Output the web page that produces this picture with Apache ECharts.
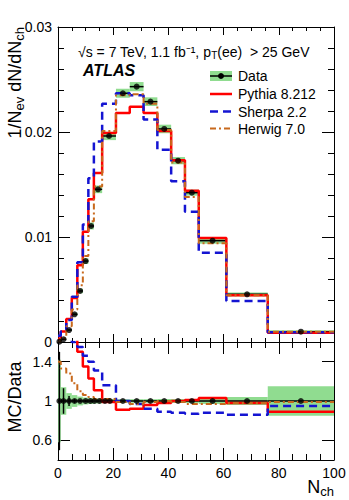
<!DOCTYPE html>
<html>
<head>
<meta charset="utf-8">
<script src="https://cdn.jsdelivr.net/npm/echarts@6/dist/echarts.min.js"></script>
<style>
  html, body { margin: 0; padding: 0; background: #fff; }
  #chart { width: 349px; height: 500px; }
</style>
</head>
<body>
<div id="chart"></div>
<script>
// bin edges in N_ch
const edges = [0, 1, 3, 5, 7, 9, 11, 13, 16, 21, 26, 31, 36, 41, 46, 51, 61, 76, 100]
// measured 1/Nev dN/dNch
const dataVals = [0.00003, 0.00026, 0.00114, 0.00264, 0.00486, 0.00771, 0.01105, 0.01454, 0.01962,
  0.02369, 0.02432, 0.02289, 0.02029, 0.01727, 0.01422, 0.00965, 0.00454, 0.00098]
// total uncertainty (relative), green band
const dataRelErr = [0.42, 0.14, 0.08, 0.06, 0.045, 0.035, 0.03, 0.025, 0.02,
  0.018, 0.018, 0.018, 0.02, 0.02, 0.02, 0.03, 0.04, 0.15]
// stat error bars in the ratio panel
const dataStatErr = [0.5, 0.13, 0.05, 0.02, 0.01, 0.01, 0.01, 0.005, 0.005,
  0, 0, 0, 0, 0, 0, 0, 0, 0]
// generators, top panel
const pythiaVals = [0.0003, 0.001, 0.0022, 0.0042, 0.0073, 0.0105, 0.0136, 0.0161, 0.0199,
  0.0218, 0.0224, 0.0218, 0.0201, 0.0173, 0.0144, 0.0099, 0.00445, 0.00087]
const sherpaVals = [0.0006, 0.001, 0.0021, 0.0043, 0.0076, 0.0112, 0.0156, 0.0191, 0.0227,
  0.0237, 0.0235, 0.0212, 0.0183, 0.0153, 0.0124, 0.0085, 0.0039, 0.00092]
const herwigVals = [0.00004, 0.00035, 0.0015, 0.0031, 0.0054, 0.0082, 0.0115, 0.0148, 0.0201,
  0.0235, 0.0236, 0.0227, 0.0202, 0.0171, 0.0138, 0.0094, 0.00445, 0.00097]
// MC/Data
const pythiaRatio = [2.5, 3.5, 2.0, 1.65, 1.5, 1.35, 1.23, 1.11, 0.99,
  0.91, 0.92, 0.96, 0.98, 1.0, 1.01, 1.03, 0.98, 0.89]
const sherpaRatio = [2.0, 3.8, 1.84, 1.6, 1.55, 1.46, 1.4, 1.31, 1.16,
  1.0, 0.97, 0.92, 0.89, 0.88, 0.87, 0.88, 0.86, 0.95]
const herwigRatio = [1.4, 1.33, 1.28, 1.18, 1.1, 1.06, 1.04, 1.02, 1.02,
  0.99, 0.97, 0.99, 1.0, 0.99, 0.97, 0.97, 0.98, 0.99]
// data markers drawn in the ratio panel
const ratioPtN = [0.5, 2, 4, 6, 8, 10, 11.7, 13.2, 15, 17, 18.8, 23.5, 28.5, 33.5, 38.5, 43.5, 48.5, 56, 68.5, 88]
const ratioTicks = [0.6, 1, 1.4]

const FONT = '"Liberation Sans", Arial, Helvetica, sans-serif'
const GREEN = '#90dc90'
const RED = '#ff0000'
const BLUE = '#1414d2'
const ORANGE = '#c8691c'

const chart = echarts.init(document.getElementById('chart'), null, { renderer: 'svg' })

// histogram -> step points
function steps(vals) {
  const pts = vals.map((v, i) => [edges[i], v])
  pts.push([edges[edges.length - 1], vals[vals.length - 1]])
  return pts
}

function bins(vals, err) {
  return vals.map((v, i) => [edges[i], edges[i + 1], v, err[i], (edges[i] + edges[i + 1]) / 2])
}

function bandItem(params, api) {
  const lo = api.value(0), hi = api.value(1), y = api.value(2), e = api.value(3)
  const a = api.coord([lo, y + e])
  const b = api.coord([hi, y - e])
  const cs = params.coordSys
  const rect = echarts.graphic.clipRectByRect(
    { x: a[0], y: a[1], width: b[0] - a[0], height: b[1] - a[1] },
    { x: cs.x, y: cs.y, width: cs.width, height: cs.height })
  return rect && { type: 'rect', shape: rect, style: { fill: GREEN } }
}

function barItem(params, api) {
  const lo = api.value(0), hi = api.value(1), y = api.value(2), e = api.value(3), xc = api.value(4)
  const l = api.coord([lo, y])
  const r = api.coord([hi, y])
  const t = api.coord([xc, y + e])
  const b = api.coord([xc, y - e])
  const st = { stroke: '#000', lineWidth: 1.5 }
  return {
    type: 'group',
    children: [
      { type: 'line', shape: { x1: l[0], y1: l[1], x2: r[0], y2: r[1] }, style: st },
      { type: 'line', shape: { x1: t[0], y1: t[1], x2: b[0], y2: b[1] }, style: st }
    ]
  }
}

function stepSeries(name, vals, xi, color, type, width) {
  return {
    name, type: 'line', step: 'end', xAxisIndex: xi, yAxisIndex: xi, data: steps(vals),
    symbol: 'none', clip: true, lineStyle: { color, type, width }
  }
}

const lineCol = { color: '#000', width: 1 }
function xAx(grid, pos, showLabel, major, minor) {
  return {
    type: 'value', gridIndex: grid, position: pos, min: 0, max: 100, interval: 20,
    axisLine: { show: true, onZero: false, lineStyle: lineCol },
    axisTick: { show: true, inside: true, length: major, lineStyle: lineCol },
    minorTick: { show: true, splitNumber: 4, length: minor, lineStyle: lineCol },
    splitLine: { show: false },
    axisLabel: { show: showLabel, fontSize: 14, color: '#000', fontFamily: FONT, margin: 6,
      showMinLabel: true, showMaxLabel: true }
  }
}
function yTop(pos, showLabel) {
  return {
    type: 'value', gridIndex: 0, position: pos, min: 0, max: 0.03, interval: 0.01,
    axisLine: { show: true, onZero: false, lineStyle: lineCol },
    axisTick: { show: true, inside: true, length: 12, lineStyle: lineCol },
    minorTick: { show: true, splitNumber: 5, length: 6, lineStyle: lineCol },
    splitLine: { show: false },
    axisLabel: { show: showLabel, fontSize: 14, color: '#000', fontFamily: FONT, margin: 6,
      showMinLabel: true, showMaxLabel: true,
      formatter: v => (v === 0 ? '0' : v.toFixed(2)) }
  }
}
function yRatio(pos, showLabel) {
  return {
    type: 'value', gridIndex: 1, position: pos, min: 0.4, max: 1.6,
    axisLine: { show: true, onZero: false, lineStyle: lineCol },
    axisTick: { show: true, inside: true, length: 12, customValues: ratioTicks, lineStyle: lineCol },
    splitLine: { show: false },
    axisLabel: { show: showLabel, fontSize: 14, color: '#000', fontFamily: FONT, margin: 6,
      customValues: ratioTicks, formatter: v => String(+(+v).toFixed(1)) }
  }
}

const txt = (text, x, y, extra, rotation) => ({
  type: 'text', x, y, z: 100, rotation: rotation || 0,
  style: Object.assign({ text, fill: '#000', font: '14px ' + FONT, verticalAlign: 'middle' }, extra)
})
const lg = (y, stroke, width, dash) => ({
  type: 'line', z: 100, shape: { x1: 210, y1: y, x2: 232, y2: y },
  style: { stroke, lineWidth: width, lineDash: dash }
})
const subRich = (big, small, pad) => ({
  m: { fontSize: big, fontFamily: FONT },
  s: { fontSize: small, fontFamily: FONT, padding: [pad, 0, 0, 0] }
})

const option = {
  animation: false,
  backgroundColor: '#fff',
  grid: [
    { left: 58, top: 27, width: 276, height: 315, containLabel: false, outerBoundsMode: 'none' },
    { left: 58, top: 342, width: 276, height: 118, containLabel: false, outerBoundsMode: 'none' }
  ],
  xAxis: [
    xAx(0, 'bottom', false, 8, 4),
    xAx(0, 'top', false, 8, 4),
    xAx(1, 'bottom', true, 12, 6),
    xAx(1, 'top', false, 12, 6)
  ],
  yAxis: [yTop('left', true), yTop('right', false), yRatio('left', true), yRatio('right', false)],
  series: [
    { type: 'custom', xAxisIndex: 0, yAxisIndex: 0, renderItem: bandItem,
      data: bins(dataVals, dataVals.map((v, i) => v * dataRelErr[i])) },
    { type: 'custom', xAxisIndex: 2, yAxisIndex: 2, renderItem: bandItem,
      data: bins(dataVals.map(() => 1), dataRelErr) },
    stepSeries('Pythia 8.212', pythiaVals, 0, RED, 'solid', 2.5),
    stepSeries('Sherpa 2.2', sherpaVals, 0, BLUE, [8, 5], 2.5),
    stepSeries('Herwig 7.0', herwigVals, 0, ORANGE, [6, 3, 2, 3], 2),
    stepSeries('Pythia 8.212', pythiaRatio, 2, RED, 'solid', 2.5),
    stepSeries('Sherpa 2.2', sherpaRatio, 2, BLUE, [8, 5], 2.5),
    stepSeries('Herwig 7.0', herwigRatio, 2, ORANGE, [6, 3, 2, 3], 2),
    { type: 'custom', xAxisIndex: 0, yAxisIndex: 0, renderItem: barItem, z: 3,
      data: bins(dataVals, dataVals.map(() => 0)) },
    { type: 'custom', xAxisIndex: 2, yAxisIndex: 2, renderItem: barItem, z: 3,
      data: bins(dataVals.map(() => 1), dataStatErr) },
    { type: 'scatter', xAxisIndex: 0, yAxisIndex: 0, z: 4, symbolSize: 6,
      itemStyle: { color: '#000' },
      data: dataVals.map((v, i) => [(edges[i] + edges[i + 1]) / 2, v]) },
    { type: 'scatter', xAxisIndex: 2, yAxisIndex: 2, z: 4, symbolSize: 6,
      itemStyle: { color: '#000' },
      data: ratioPtN.map(n => [n, 1]) }
  ],
  graphic: [
    txt('{m|1/N}{s|ev}{m| dN/dN}{s|ch}', 15, 27,
      { align: 'right', font: '18px ' + FONT, rich: subRich(18, 13, 8) }, Math.PI / 2),
    txt('MC/Data', 15, 397, { align: 'center', font: '18px ' + FONT }, Math.PI / 2),
    txt('{m|N}{s|ch}', 334, 487, { align: 'right', font: '18px ' + FONT, rich: subRich(18, 13, 8) }),
    txt('{m|√s = 7 TeV, 1.1 fb⁻¹, p}{s|T}{m|(ee)  > 25 GeV}', 78, 52, { rich: subRich(14, 10, 6) }),
    txt('ATLAS', 83, 70, { font: 'italic bold 16px ' + FONT }),
    { type: 'rect', z: 99, shape: { x: 210, y: 71, width: 22, height: 10 }, style: { fill: GREEN } },
    lg(76, '#000', 1.5),
    { type: 'circle', z: 100, shape: { cx: 221, cy: 76, r: 3 }, style: { fill: '#000' } },
    lg(94, RED, 2.5),
    lg(111.5, BLUE, 2.5, [8, 5]),
    lg(128.5, ORANGE, 2, [6, 3, 2, 3]),
    txt('Data', 238, 76),
    txt('Pythia 8.212', 238, 94),
    txt('Sherpa 2.2', 238, 111.5),
    txt('Herwig 7.0', 238, 128.5)
  ]
}

chart.setOption(option)
</script>
</body>
</html>
